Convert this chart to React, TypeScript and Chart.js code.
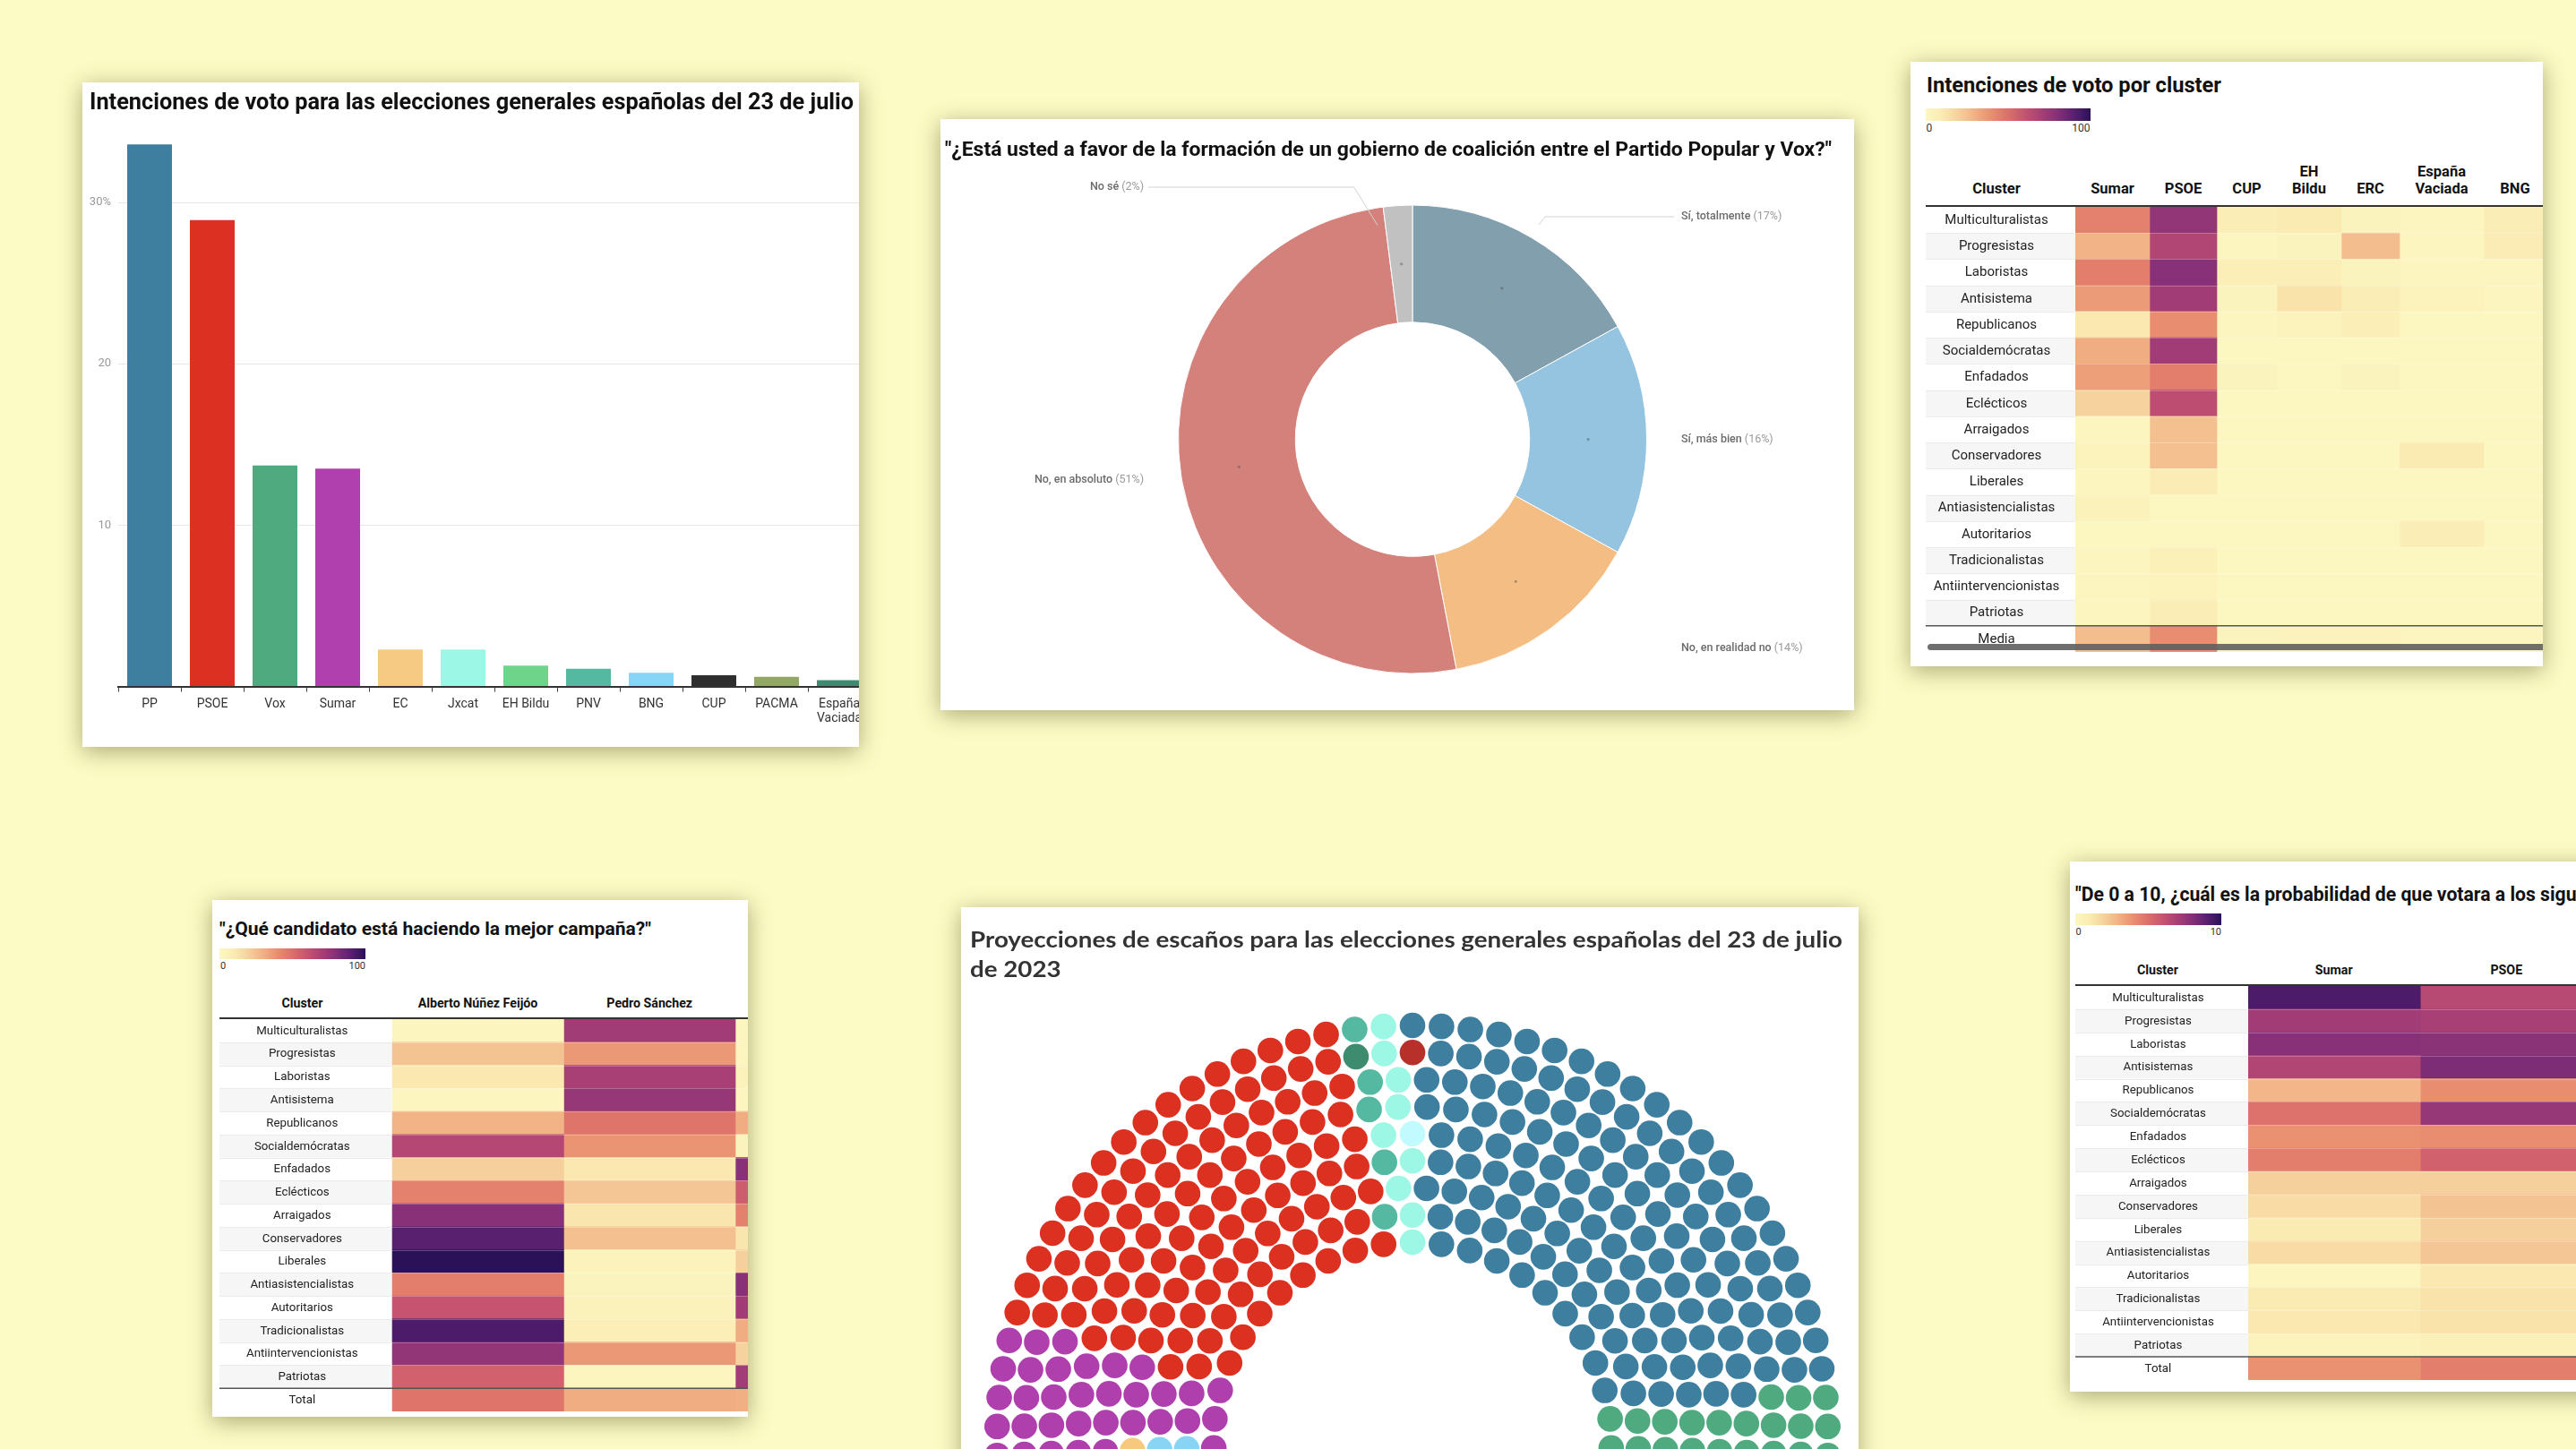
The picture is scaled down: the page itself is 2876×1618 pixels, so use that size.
import React, { useEffect, useLayoutEffect, useRef, useState } from 'react';
import { Chart, registerables } from 'chart.js';

Chart.register(...registerables);
Chart.defaults.font.family = 'Roboto, "Noto Sans", sans-serif';

// ================= DATA =================
// Chart 1 – vote intention bars
const voteParties = ['PP', 'PSOE', 'Vox', 'Sumar', 'EC', 'Jxcat', 'EH Bildu', 'PNV', 'BNG', 'CUP', 'PACMA', 'España Vaciada'];
const voteShare = [33.6, 28.9, 13.7, 13.5, 2.3, 2.3, 1.3, 1.1, 0.85, 0.7, 0.6, 0.4];
const voteColors = ['#3e7fa0', '#dc3122', '#4fab7f', '#b040ad', '#f6ca82', '#9cf7e6', '#6dd48a', '#55b8a0', '#86d5f7', '#2e2e2e', '#93a864', '#3d8c72'];
const shareTicks = [0, 10, 20, 30];
const shareTickLabels = ['', '10', '20', '30%'];

// Chart 2 – coalition donut
const coalitionAnswers = ['Sí, totalmente', 'Sí, más bien', 'No, en realidad no', 'No, en absoluto', 'No sé'];
const coalitionShare = [17, 16, 14, 51, 2];
const coalitionColors = ['#829fae', '#94c4df', '#f3bd84', '#d4817c', '#c1c1c1'];

// Heatmaps – clusters
const clusterNames = ['Multiculturalistas', 'Progresistas', 'Laboristas', 'Antisistema', 'Republicanos', 'Socialdemócratas', 'Enfadados', 'Eclécticos', 'Arraigados', 'Conservadores', 'Liberales', 'Antiasistencialistas', 'Autoritarios', 'Tradicionalistas', 'Antiintervencionistas', 'Patriotas'];
const clusterNamesProb = ['Multiculturalistas', 'Progresistas', 'Laboristas', 'Antisistemas', 'Republicanos', 'Socialdemócratas', 'Enfadados', 'Eclécticos', 'Arraigados', 'Conservadores', 'Liberales', 'Antiasistencialistas', 'Autoritarios', 'Tradicionalistas', 'Antiintervencionistas', 'Patriotas'];

// Chart 3 – vote intention by cluster (0-100)
const clusterVoteParties = ['Sumar', 'PSOE', 'CUP', 'EH Bildu', 'ERC', 'España Vaciada', 'BNG'];
const clusterVoteSumar = [44, 29, 45, 36, 11, 31, 35, 19, 2, 4, 2, 5, 1, 2, 2, 2];
const clusterVotePSOE = [76, 67, 79, 72, 40, 72, 45, 63, 25, 25, 9, 1, 1, 6, 4, 8];
const clusterVoteCUP = [8, 2, 7, 3, 2, 1, 3, 1, 1, 1, 1, 1, 1, 1, 1, 1];
const clusterVoteBildu = [10, 3, 7, 13, 4, 1, 1, 1, 1, 1, 1, 1, 1, 1, 1, 1];
const clusterVoteERC = [3, 26, 3, 8, 7, 1, 3, 1, 1, 1, 1, 1, 1, 1, 1, 1];
const clusterVoteEV = [2, 2, 2, 4, 1, 1, 1, 1, 1, 10, 1, 1, 8, 1, 1, 1];
const clusterVoteBNG = [8, 9, 2, 2, 1, 1, 1, 1, 1, 1, 1, 1, 1, 1, 1, 1];
const clusterVoteMedia = [26, 40, 3, 4, 4, 2, 2];

// Chart 4 – best campaign (0-100)
const campaignCandidates = ['Alberto Núñez Feijóo', 'Pedro Sánchez', 'Yolanda Díaz'];
const campaignFeijoo = [2, 24, 11, 2, 29, 66, 20, 44, 79, 90, 100, 45, 60, 93, 76, 55];
const campaignSanchez = [72, 37, 70, 75, 48, 38, 11, 23, 12, 25, 4, 3, 5, 7, 37, 2];
const campaignDiaz = [2, 2, 5, 2, 31, 3, 79, 57, 44, 12, 20, 79, 72, 31, 19, 72];
const campaignTotal = [48, 31, 30];

// Chart 6 – probability to vote (0-10)
const probParties = ['Sumar', 'PSOE'];
const probSumar = [9.3, 7.2, 7.9, 6.7, 2.8, 4.9, 3.9, 4.5, 2.0, 1.6, 1.0, 1.6, 0.2, 1.0, 1.1, 0.4];
const probPSOE = [6.5, 7.0, 7.8, 8.2, 4.0, 7.5, 4.0, 5.5, 2.0, 2.4, 2.0, 2.3, 1.1, 1.3, 1.3, 0.6];
const probTotal = [3.9, 4.5];

// Chart 5 – seat projection
const seatParties = ['EC', 'BNG', 'Sumar', 'PSOE', 'España Vaciada', 'PNV', 'Jxcat', 'CC', 'ERC', 'PP', 'Vox'];
const seatCounts = [1, 2, 33, 109, 1, 5, 9, 1, 1, 137, 21];
const seatColors = ['#f6c97f', '#87d4f5', '#b03fae', '#dc3020', '#3d8c70', '#55b8a0', '#9cf7e4', '#c2fbff', '#b8302a', '#3e7fa0', '#4fab7f'];

// Colour scale (reversed magma-like)
const heatStops = ['#fcf7c2', '#faebb2', '#f6d09c', '#f1b084', '#e98d70', '#dc6e6a', '#c65470', '#a83f75', '#843078', '#5a2070', '#2b1158'];

// ================= HELPERS =================
function hexRgb(h: string) {
  const n = parseInt(h.slice(1), 16);
  return [(n >> 16) & 255, (n >> 8) & 255, n & 255];
}
function heatColor(t: number) {
  const tt = Math.max(0, Math.min(1, t));
  const pos = tt * (heatStops.length - 1);
  const i = Math.min(Math.floor(pos), heatStops.length - 2);
  const f = pos - i;
  const a = hexRgb(heatStops[i]);
  const b = hexRgb(heatStops[i + 1]);
  const c = a.map((v, k) => Math.round(v + (b[k] - v) * f));
  return `rgb(${c[0]},${c[1]},${c[2]})`;
}
const heatGradient = `linear-gradient(to right, ${heatStops.join(', ')})`;

function ascFor(family: string) {
  return family.includes('Lato') ? 0.887 : 0.842;
}

function Txt({ x, y, text, size, weight = 400, color = '#222', align = 'left', family = 'Roboto' }: any) {
  const top = y - ascFor(family) * size;
  const st: any = { position: 'absolute', top, fontSize: size, lineHeight: 1, fontFamily: family, fontWeight: weight, color, whiteSpace: 'nowrap' };
  if (align === 'left') st.left = x;
  else if (align === 'right') { st.left = x - 600; st.width = 600; st.textAlign = 'right'; }
  else { st.left = x - 300; st.width = 600; st.textAlign = 'center'; }
  return <div style={st}>{text}</div>;
}

function FitText({ x, y, size, width, lines, weight = 700, family = 'Roboto', color = '#111', lineGap = 0, prefix }: any) {
  const mref = useRef<HTMLSpanElement>(null);
  const [sx, setSx] = useState(1);
  useLayoutEffect(() => {
    const el = mref.current;
    if (!el) return;
    const w = el.getBoundingClientRect().width;
    if (w > 0) setSx(width / w);
  }, []);
  return (
    <div style={{ position: 'absolute', left: x, top: y - ascFor(family) * size, transform: `scaleX(${sx})`, transformOrigin: '0 0', fontFamily: family, fontWeight: weight, fontSize: size, lineHeight: 1, color, whiteSpace: 'nowrap' }}>
      {lines.map((l: string, i: number) => (
        <div key={i} style={{ height: i < lines.length - 1 ? lineGap : undefined }}>{l}</div>
      ))}
      <span ref={mref} style={{ position: 'absolute', left: 0, top: 0, visibility: 'hidden' }}>{prefix ?? lines[0]}</span>
    </div>
  );
}

function Card({ x, y, w, h, children }: any) {
  return (
    <div style={{ position: 'absolute', left: x, top: y, width: w, height: h, background: '#fff', boxShadow: '0 5px 24px rgba(70,70,20,0.45)', overflow: 'hidden' }}>
      {children}
    </div>
  );
}

// ================= CHART 1 =================
function BarCard() {
  const ref = useRef<HTMLCanvasElement>(null);
  useEffect(() => {
    const chart = new Chart(ref.current!, {
      type: 'bar',
      data: {
        labels: voteParties.map((p) => (p === 'España Vaciada' ? ['España', 'Vaciada'] : p)) as any,
        datasets: [{ data: voteShare, backgroundColor: voteColors, borderWidth: 0, barPercentage: 0.714, categoryPercentage: 1 }],
      },
      options: {
        responsive: false,
        animation: false,
        layout: { padding: { left: 0, right: 20, top: 43.9, bottom: 0 } },
        plugins: { legend: { display: false }, tooltip: { enabled: false } },
        scales: {
          x: {
            grid: { display: true, drawOnChartArea: false, drawTicks: true, tickLength: 6, color: '#444', lineWidth: 1 },
            border: { display: true, color: '#333', width: 2 },
            ticks: { color: '#333', font: { size: 14 }, padding: 5, maxRotation: 0, autoSkip: false },
            afterFit: (s: any) => { s.height = 67.4; },
          } as any,
          y: {
            min: 0,
            max: 35,
            afterBuildTicks: (s: any) => { s.ticks = shareTicks.map((v) => ({ value: v })); },
            grid: { color: (c: any) => (c.tick && c.tick.value === 0 ? 'rgba(0,0,0,0)' : '#e6e6e6'), drawTicks: false },
            border: { display: false },
            ticks: { color: '#999', font: { size: 13 }, padding: 8, callback: (v: any) => shareTickLabels[shareTicks.indexOf(Number(v))] ?? '' },
            afterFit: (s: any) => { s.width = 40; },
          } as any,
        },
      },
    });
    return () => chart.destroy();
  }, []);
  return (
    <Card x={92} y={92} w={867} h={742}>
      <canvas ref={ref} width={900} height={742} style={{ position: 'absolute', left: 0, top: 0 }} />
      <FitText x={8} y={121.7 - 92} size={25} width={853} lines={['Intenciones de voto para las elecciones generales españolas del 23 de julio']} />
    </Card>
  );
}

// ================= CHART 2 =================
const donutPlacement: any[] = [
  { align: 'left', dx: 300, dy: -248.6, leader: [[141, -239.6], [148, -248.6], [292, -248.6]] },
  { align: 'left', dx: 300, dy: 0 },
  { align: 'left', dx: 300, dy: 233.4 },
  { align: 'right', dx: -300, dy: 45 },
  { align: 'right', dx: -300, dy: -281.6, leader: [[-295, -281.6], [-65.3, -281.6], [-39, -239]] },
];

function DonutCard() {
  const ref = useRef<HTMLCanvasElement>(null);
  useEffect(() => {
    const labelPlugin = {
      id: 'donutLabels',
      afterDraw(chart: any) {
        const ctx = chart.ctx;
        const meta = chart.getDatasetMeta(0);
        const a0 = meta.data[0];
        const cx = a0.x;
        const cy = a0.y;
        ctx.save();
        meta.data.forEach((arc: any, i: number) => {
          const mid = (arc.startAngle + arc.endAngle) / 2;
          const rr = (arc.innerRadius + arc.outerRadius) / 2;
          ctx.fillStyle = 'rgba(80,80,80,0.45)';
          ctx.beginPath();
          ctx.arc(cx + rr * Math.cos(mid), cy + rr * Math.sin(mid), 1.6, 0, Math.PI * 2);
          ctx.fill();
          const pl = donutPlacement[i];
          if (pl.leader) {
            ctx.strokeStyle = '#d2d2d2';
            ctx.lineWidth = 1;
            ctx.beginPath();
            pl.leader.forEach(([dx, dy]: number[], j: number) => (j ? ctx.lineTo(cx + dx, cy + dy) : ctx.moveTo(cx + dx, cy + dy)));
            ctx.stroke();
          }
          const name = coalitionAnswers[i];
          const pct = ` (${coalitionShare[i]}%)`;
          ctx.textBaseline = 'middle';
          ctx.textAlign = 'left';
          ctx.font = '500 12.5px Roboto';
          const wn = ctx.measureText(name).width;
          ctx.font = '400 12.5px Roboto';
          const wp = ctx.measureText(pct).width;
          let x = cx + pl.dx;
          if (pl.align === 'right') x -= wn + wp;
          ctx.font = '500 12.5px Roboto';
          ctx.fillStyle = '#6b6b6b';
          ctx.fillText(name, x, cy + pl.dy);
          ctx.font = '400 12.5px Roboto';
          ctx.fillStyle = '#9a9a9a';
          ctx.fillText(pct, x + wn, cy + pl.dy);
        });
        ctx.restore();
      },
    };
    const chart = new Chart(ref.current!, {
      type: 'doughnut',
      data: {
        labels: coalitionAnswers,
        datasets: [{ data: coalitionShare, backgroundColor: coalitionColors, borderColor: '#ffffff', borderWidth: 1, radius: 261.5, cutout: '50%' } as any],
      },
      options: {
        responsive: false,
        animation: false,
        layout: { padding: { left: 34, top: 55.2, right: 0, bottom: 0 } },
        plugins: { legend: { display: false }, tooltip: { enabled: false } },
      },
      plugins: [labelPlugin],
    });
    return () => chart.destroy();
  }, []);
  return (
    <Card x={1050} y={133} w={1020} h={660}>
      <canvas ref={ref} width={1020} height={660} style={{ position: 'absolute', left: 0, top: 0 }} />
      <FitText x={5} y={175 - 133} size={22} width={990} lines={['"¿Está usted a favor de la formación de un gobierno de coalición entre el Partido Popular y Vox?"']} />
    </Card>
  );
}

// ================= HEATMAP =================
function HeatCanvas({ left, top, width, rowH, labelW, rowLabels, summaryLabel, colWidths, values, summary, max, font, labelShift }: any) {
  const ref = useRef<HTMLCanvasElement>(null);
  const labels = [...rowLabels, summaryLabel];
  const height = labels.length * rowH;
  useEffect(() => {
    const edges = [0];
    colWidths.forEach((w: number) => edges.push(edges[edges.length - 1] + w));
    const datasets = values.map((col: number[], c: number) => ({
      data: labels.map(() => [edges[c], edges[c + 1]]),
      backgroundColor: [...col, summary[c]].map((v: number) => heatColor(v / max)),
      borderWidth: 0,
      barPercentage: 1,
      categoryPercentage: 1,
      grouped: false,
    }));
    const decor = {
      id: 'heatDecor',
      beforeDraw(chart: any) {
        const ctx = chart.ctx;
        const ys = chart.scales.y;
        ctx.save();
        labels.forEach((_l: string, i: number) => {
          if (i % 2 === 1 && i < labels.length - 1) {
            const yc = ys.getPixelForValue(i);
            ctx.fillStyle = '#f6f6f6';
            ctx.fillRect(0, yc - rowH / 2, labelW, rowH);
          }
        });
        ctx.restore();
      },
      afterDraw(chart: any) {
        const ctx = chart.ctx;
        const ys = chart.scales.y;
        ctx.save();
        for (let i = 1; i < labels.length; i++) {
          const y = Math.round(ys.getPixelForValue(i) - rowH / 2) + 0.5;
          if (i === labels.length - 1) continue;
          ctx.strokeStyle = '#ebebeb';
          ctx.lineWidth = 1;
          ctx.beginPath();
          ctx.moveTo(0, y);
          ctx.lineTo(labelW, y);
          ctx.stroke();
          ctx.strokeStyle = 'rgba(255,255,255,0.25)';
          ctx.beginPath();
          ctx.moveTo(labelW, y);
          ctx.lineTo(width, y);
          ctx.stroke();
        }
        const ySum = ys.getPixelForValue(labels.length - 1) - rowH / 2;
        ctx.strokeStyle = '#555';
        ctx.lineWidth = 1.5;
        ctx.beginPath();
        ctx.moveTo(0, ySum);
        ctx.lineTo(width, ySum);
        ctx.stroke();
        ctx.fillStyle = '#222';
        ctx.font = `400 ${font}px Roboto`;
        ctx.textAlign = 'center';
        ctx.textBaseline = 'middle';
        labels.forEach((l: string, i: number) => {
          ctx.fillText(l, labelW / 2 + labelShift, ys.getPixelForValue(i) + 0.5);
        });
        ctx.restore();
      },
    };
    const chart = new Chart(ref.current!, {
      type: 'bar',
      data: { labels, datasets },
      options: {
        indexAxis: 'y',
        responsive: false,
        animation: false,
        layout: { padding: { left: labelW, right: 0, top: 0, bottom: 0 }, autoPadding: false },
        plugins: { legend: { display: false }, tooltip: { enabled: false } },
        scales: {
          x: { type: 'linear', min: 0, max: width - labelW, display: false },
          y: { type: 'category', display: false },
        },
      } as any,
      plugins: [decor],
    });
    return () => chart.destroy();
  }, []);
  return <canvas ref={ref} width={width} height={height} style={{ position: 'absolute', left, top }} />;
}

function HeatHeaders({ ox, oy, baseline, lineStep, size, items }: any) {
  return (
    <>
      {items.map((it: any, i: number) =>
        it.lines.map((l: string, j: number) => (
          <Txt key={`${i}-${j}`} x={it.cx - ox} y={baseline - oy - (it.lines.length - 1 - j) * lineStep} text={l} size={size} weight={700} color="#111" align="center" />
        )),
      )}
    </>
  );
}

function Legend({ ox, oy, x, y, w, h, labelY, size, maxLabel }: any) {
  return (
    <>
      <div style={{ position: 'absolute', left: x - ox, top: y - oy, width: w, height: h, background: heatGradient }} />
      <Txt x={x - ox + 1} y={labelY - oy} text="0" size={size} color="#333" />
      <Txt x={x - ox + w} y={labelY - oy} text={maxLabel} size={size} color="#333" align="right" />
    </>
  );
}

function colCenters(startX: number, widths: number[]) {
  const out: number[] = [];
  let x = startX;
  widths.forEach((w) => { out.push(x + w / 2); x += w; });
  return out;
}

// Card 3
const c3Cols = [83, 75, 67, 72, 65, 94, 70];
function ClusterVoteCard() {
  const ox = 2133, oy = 69;
  const centers = colCenters(2317, c3Cols);
  const items = [{ lines: ['Cluster'], cx: 2229 }, ...clusterVoteParties.map((p, i) => ({ lines: p.split(' '), cx: centers[i] }))];
  return (
    <Card x={ox} y={oy} w={706} h={675}>
      <FitText x={2151 - ox} y={103.7 - oy} size={23.8} width={329} lines={['Intenciones de voto por cluster']} />
      <Legend ox={ox} oy={oy} x={2149.5} y={121} w={184} h={14} labelY={147.3} size={12} maxLabel="100" />
      <HeatHeaders ox={ox} oy={oy} baseline={216.7} lineStep={19} size={16.5} items={items} />
      <div style={{ position: 'absolute', left: 2150 - ox, top: 229 - oy, width: 700, height: 2, background: '#333' }} />
      <HeatCanvas
        left={2150 - ox} top={231 - oy} width={689} rowH={29.25} labelW={167}
        rowLabels={clusterNames} summaryLabel="Media" colWidths={c3Cols}
        values={[clusterVoteSumar, clusterVotePSOE, clusterVoteCUP, clusterVoteBildu, clusterVoteERC, clusterVoteEV, clusterVoteBNG]}
        summary={clusterVoteMedia} max={100} font={15} labelShift={-4.5}
      />
      <div style={{ position: 'absolute', left: 2152 - ox, top: 718.5 - oy, width: 700, height: 7, borderRadius: 4, background: 'rgba(95,95,95,0.9)' }} />
    </Card>
  );
}

// Card 4
const c4Cols = [191.8, 191.6, 191.6];
function CampaignCard() {
  const ox = 237, oy = 1004.5;
  const centers = colCenters(437.6, c4Cols);
  const items = [{ lines: ['Cluster'], cx: 337.5 }, ...campaignCandidates.map((p, i) => ({ lines: [p], cx: centers[i] }))];
  return (
    <Card x={ox} y={oy} w={598} h={577.5}>
      <FitText x={245 - ox} y={1044.3 - oy} size={21} width={482} lines={['"¿Qué candidato está haciendo la mejor campaña?"']} />
      <Legend ox={ox} oy={oy} x={245} y={1059} w={163} h={12} labelY={1081.8} size={11} maxLabel="100" />
      <HeatHeaders ox={ox} oy={oy} baseline={1125} lineStep={17} size={14.2} items={items} />
      <div style={{ position: 'absolute', left: 245 - ox, top: 1136 - oy, width: 600, height: 2, background: '#333' }} />
      <HeatCanvas
        left={245 - ox} top={1138 - oy} width={590} rowH={25.79} labelW={192.6}
        rowLabels={clusterNames} summaryLabel="Total" colWidths={c4Cols}
        values={[campaignFeijoo, campaignSanchez, campaignDiaz]}
        summary={campaignTotal} max={100} font={13.3} labelShift={-4}
      />
    </Card>
  );
}

// Card 6
const c6Cols = [192.6, 192.6];
function ProbabilityCard() {
  const ox = 2311, oy = 962;
  const centers = colCenters(2509.4, c6Cols);
  const items = [{ lines: ['Cluster'], cx: 2409 }, ...probParties.map((p, i) => ({ lines: [p], cx: centers[i] }))];
  return (
    <Card x={ox} y={oy} w={640} h={592}>
      <FitText x={2316.5 - ox} y={1006.5 - oy} size={22} width={559.5} lines={['"De 0 a 10, ¿cuál es la probabilidad de que votara a los siguientes partidos?"']} prefix={'"De 0 a 10, ¿cuál es la probabilidad de que votara a los sigu'} />
      <Legend ox={ox} oy={oy} x={2316.5} y={1020.4} w={163.5} h={12.6} labelY={1044} size={11} maxLabel="10" />
      <HeatHeaders ox={ox} oy={oy} baseline={1088} lineStep={17} size={14.2} items={items} />
      <div style={{ position: 'absolute', left: 2316.5 - ox, top: 1099 - oy, width: 640, height: 2, background: '#333' }} />
      <HeatCanvas
        left={2316.5 - ox} top={1101 - oy} width={559.5} rowH={25.9} labelW={192.9}
        rowLabels={clusterNamesProb} summaryLabel="Total" colWidths={c6Cols}
        values={[probSumar, probPSOE]}
        summary={probTotal} max={10} font={13.3} labelShift={-4}
      />
    </Card>
  );
}

// ================= CHART 5 =================
const hemiRowSeats = [23, 27, 30, 33, 35, 38, 42, 45, 47];
const hemiInnerR = 222;
const hemiRowStep = 30.25;
const hemiTieOrder = [3, 1, 2, 0, 4, 5, 6, 7, 8];
const hemiSpanDeg = 184;

function ParliamentCard() {
  const ref = useRef<HTMLCanvasElement>(null);
  useEffect(() => {
    const seats: any[] = [];
    hemiRowSeats.forEach((n, row) => {
      const r = hemiInnerR + row * hemiRowStep;
      for (let k = 0; k < n; k++) seats.push({ row, r, key: Math.round((k / (n - 1)) * 1e9) });
    });
    seats.sort((a, b) => a.key - b.key || hemiTieOrder.indexOf(a.row) - hemiTieOrder.indexOf(b.row));
    const colors: string[] = [];
    let idx = 0;
    seatCounts.forEach((cnt, p) => {
      for (let j = 0; j < cnt && idx < seats.length; j++, idx++) colors[idx] = seatColors[p];
    });
    const start = 90 + hemiSpanDeg / 2;
    const pts = seats.map((s) => {
      const th = ((start - (s.key / 1e9) * hemiSpanDeg) * Math.PI) / 180;
      return { x: s.r * Math.cos(th), y: s.r * Math.sin(th) };
    });
    const chart = new Chart(ref.current!, {
      type: 'scatter',
      data: {
        datasets: [{ data: pts, pointBackgroundColor: colors, pointBorderWidth: 0, pointBorderColor: colors, pointRadius: 14.3, pointHoverRadius: 14.3 } as any],
      },
      options: {
        responsive: false,
        animation: false,
        layout: { padding: 0, autoPadding: false },
        plugins: { legend: { display: false }, tooltip: { enabled: false } },
        scales: {
          x: { type: 'linear', min: -504, max: 498, display: false },
          y: { type: 'linear', min: -9, max: 596, display: false },
        },
      } as any,
    });
    return () => chart.destroy();
  }, []);
  return (
    <Card x={1073} y={1013} w={1002} h={700}>
      <canvas ref={ref} width={1002} height={605} style={{ position: 'absolute', left: 0, top: 0 }} />
      <FitText x={10} y={1059 - 1013} size={24.5} width={974} family="Lato" weight={700} color="#333" lineGap={32.5}
        lines={['Proyecciones de escaños para las elecciones generales españolas del 23 de julio', 'de 2023']} />
    </Card>
  );
}

// ================= APP =================
export default function App() {
  return (
    <div style={{ position: 'fixed', left: 0, top: 0, width: 2876, height: 1618, background: '#fcfbc5', overflow: 'hidden', fontFamily: 'Roboto, sans-serif' }}>
      <BarCard />
      <DonutCard />
      <ClusterVoteCard />
      <CampaignCard />
      <ParliamentCard />
      <ProbabilityCard />
    </div>
  );
}
